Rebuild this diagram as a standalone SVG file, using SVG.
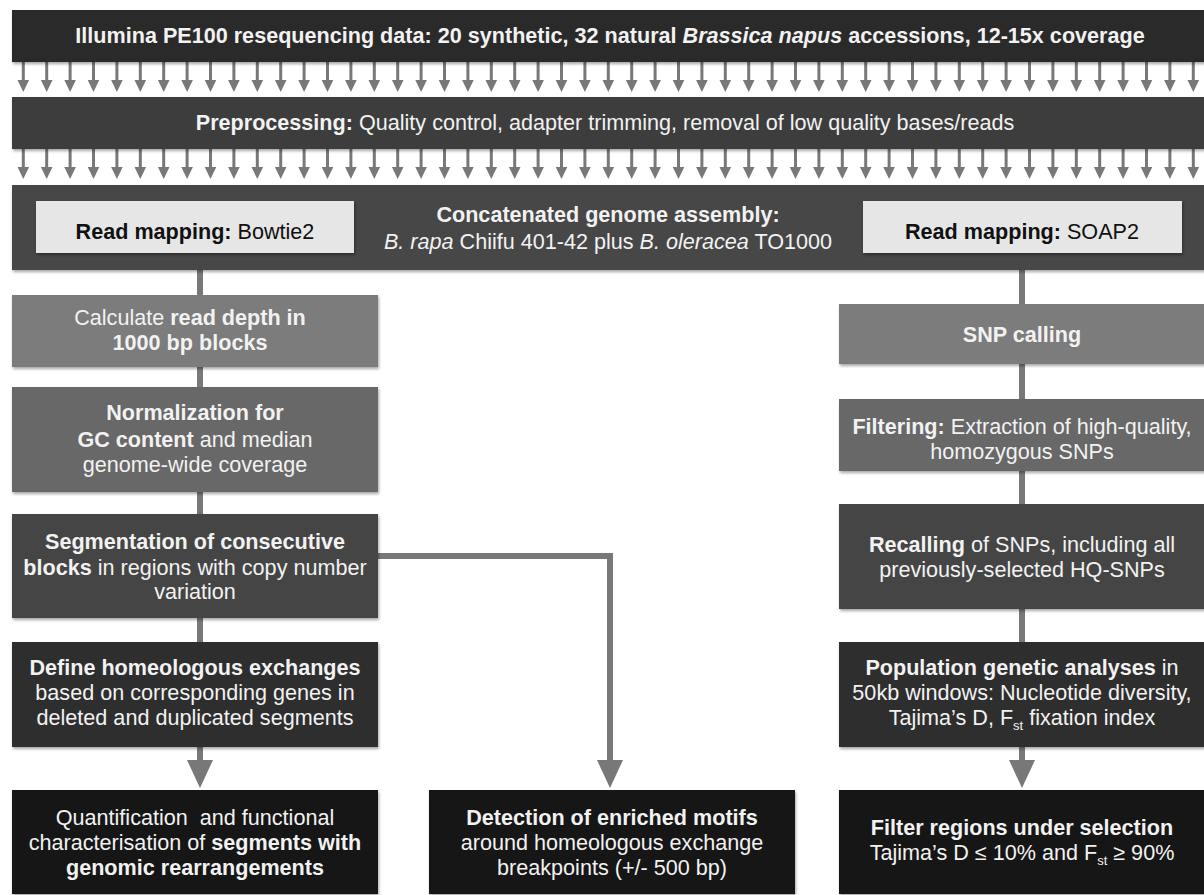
<svg xmlns="http://www.w3.org/2000/svg" xmlns:xlink="http://www.w3.org/1999/xlink" width="1204" height="895" viewBox="0 0 1204 895">
<defs>
<filter id="sh" x="-5%" y="-10%" width="110%" height="130%">
<feDropShadow dx="1" dy="2" stdDeviation="1.6" flood-color="#000" flood-opacity="0.35"/>
</filter>
<g id="sa"><rect x="-1.5" y="0" width="3" height="20" fill="#787878"/><polygon points="-5.8,18 5.8,18 0,30" fill="#787878"/></g>
</defs>
<style>
text{font-family:"Liberation Sans",Arial,Helvetica,sans-serif;font-size:21.6px;text-anchor:middle;fill:#f2f2f2}
.dk{fill:#111}
.b{font-weight:bold}
.i{font-style:italic}
.sub{font-size:13px}
.conn{fill:none;stroke:#787878;stroke-width:6}
.head{fill:#787878}
</style>
<rect width="1204" height="895" fill="#fff"/>

<g id="connectors">
<g id="row1" transform="translate(0,62)">
<use href="#sa" x="23.3"/><use href="#sa" x="46.7"/><use href="#sa" x="70.1"/><use href="#sa" x="93.5"/><use href="#sa" x="116.9"/><use href="#sa" x="140.3"/><use href="#sa" x="163.7"/><use href="#sa" x="187.1"/><use href="#sa" x="210.5"/><use href="#sa" x="233.9"/><use href="#sa" x="257.3"/><use href="#sa" x="280.7"/><use href="#sa" x="304.1"/><use href="#sa" x="327.5"/><use href="#sa" x="350.9"/><use href="#sa" x="374.3"/><use href="#sa" x="397.7"/><use href="#sa" x="421.1"/><use href="#sa" x="444.5"/><use href="#sa" x="467.9"/><use href="#sa" x="491.3"/><use href="#sa" x="514.7"/><use href="#sa" x="538.1"/><use href="#sa" x="561.5"/><use href="#sa" x="584.9"/><use href="#sa" x="608.3"/><use href="#sa" x="631.7"/><use href="#sa" x="655.1"/><use href="#sa" x="678.5"/><use href="#sa" x="701.9"/><use href="#sa" x="725.3"/><use href="#sa" x="748.7"/><use href="#sa" x="772.1"/><use href="#sa" x="795.5"/><use href="#sa" x="818.9"/><use href="#sa" x="842.3"/><use href="#sa" x="865.7"/><use href="#sa" x="889.1"/><use href="#sa" x="912.5"/><use href="#sa" x="935.9"/><use href="#sa" x="959.3"/><use href="#sa" x="982.7"/><use href="#sa" x="1006.1"/><use href="#sa" x="1029.5"/><use href="#sa" x="1052.9"/><use href="#sa" x="1076.3"/><use href="#sa" x="1099.7"/><use href="#sa" x="1123.1"/><use href="#sa" x="1146.5"/><use href="#sa" x="1169.9"/><use href="#sa" x="1193.3"/>
</g>
<g id="row2" transform="translate(0,149)">
<use href="#sa" x="23.3"/><use href="#sa" x="46.7"/><use href="#sa" x="70.1"/><use href="#sa" x="93.5"/><use href="#sa" x="116.9"/><use href="#sa" x="140.3"/><use href="#sa" x="163.7"/><use href="#sa" x="187.1"/><use href="#sa" x="210.5"/><use href="#sa" x="233.9"/><use href="#sa" x="257.3"/><use href="#sa" x="280.7"/><use href="#sa" x="304.1"/><use href="#sa" x="327.5"/><use href="#sa" x="350.9"/><use href="#sa" x="374.3"/><use href="#sa" x="397.7"/><use href="#sa" x="421.1"/><use href="#sa" x="444.5"/><use href="#sa" x="467.9"/><use href="#sa" x="491.3"/><use href="#sa" x="514.7"/><use href="#sa" x="538.1"/><use href="#sa" x="561.5"/><use href="#sa" x="584.9"/><use href="#sa" x="608.3"/><use href="#sa" x="631.7"/><use href="#sa" x="655.1"/><use href="#sa" x="678.5"/><use href="#sa" x="701.9"/><use href="#sa" x="725.3"/><use href="#sa" x="748.7"/><use href="#sa" x="772.1"/><use href="#sa" x="795.5"/><use href="#sa" x="818.9"/><use href="#sa" x="842.3"/><use href="#sa" x="865.7"/><use href="#sa" x="889.1"/><use href="#sa" x="912.5"/><use href="#sa" x="935.9"/><use href="#sa" x="959.3"/><use href="#sa" x="982.7"/><use href="#sa" x="1006.1"/><use href="#sa" x="1029.5"/><use href="#sa" x="1052.9"/><use href="#sa" x="1076.3"/><use href="#sa" x="1099.7"/><use href="#sa" x="1123.1"/><use href="#sa" x="1146.5"/><use href="#sa" x="1169.9"/><use href="#sa" x="1193.3"/>
</g>
<path class="conn" d="M200 253V295M200 367V387M200 492V514M200 618V642M200 747V762"/>
<polygon class="head" points="187,760 213,760 200,788"/>
<path class="conn" d="M378 556H610V762"/>
<polygon class="head" points="597,760 623,760 610,788"/>
<path class="conn" d="M1022 253V304M1022 364V399M1022 471V504M1022 609V642M1022 747V762"/>
<polygon class="head" points="1009,760 1035,760 1022,788"/>
</g>

<g id="n-input">
<rect x="12" y="10" width="1200" height="52" fill="#2b2b2b" filter="url(#sh)"/>
<text x="610" y="43" class="b">Illumina PE100 resequencing data: 20 synthetic, 32 natural <tspan class="i">Brassica napus</tspan> accessions, 12-15x coverage</text>
</g>
<g id="n-preproc">
<rect x="12" y="97" width="1200" height="52" fill="#3d3d3d" filter="url(#sh)"/>
<text x="605" y="130"><tspan class="b">Preprocessing:</tspan> Quality control, adapter trimming, removal of low quality bases/reads</text>
</g>
<g id="n-assembly">
<rect x="12" y="185" width="1200" height="85" fill="#474747" filter="url(#sh)"/>
<text x="608" y="222" class="b">Concatenated genome assembly:</text>
<text x="608" y="249"><tspan class="i">B. rapa</tspan> Chiifu 401-42 plus <tspan class="i">B. oleracea</tspan> TO1000</text>
</g>
<g id="n-bowtie">
<rect x="36" y="201" width="318" height="52" fill="#e6e6e6" filter="url(#sh)"/>
<text x="195" y="239" class="dk"><tspan class="b">Read mapping:</tspan> Bowtie2</text>
</g>
<g id="n-soap">
<rect x="863" y="201" width="319" height="52" fill="#e6e6e6" filter="url(#sh)"/>
<text x="1022" y="239" class="dk"><tspan class="b">Read mapping:</tspan> SOAP2</text>
</g>

<g id="n-depth">
<rect x="12" y="295" width="366" height="72" fill="#7b7b7b" filter="url(#sh)"/>
<text x="190" y="325">Calculate <tspan class="b">read depth in</tspan></text>
<text x="190" y="350" class="b">1000 bp blocks</text>
</g>
<g id="n-norm">
<rect x="12" y="387" width="366" height="105" fill="#686868" filter="url(#sh)"/>
<text x="195" y="420" class="b">Normalization for</text>
<text x="195" y="447"><tspan class="b">GC content</tspan> and median</text>
<text x="195" y="472">genome-wide coverage</text>
</g>
<g id="n-seg">
<rect x="12" y="514" width="366" height="104" fill="#454545" filter="url(#sh)"/>
<text x="195" y="549" class="b">Segmentation of consecutive</text>
<text x="195" y="575"><tspan class="b">blocks</tspan> in regions with copy number</text>
<text x="195" y="599">variation</text>
</g>
<g id="n-define">
<rect x="12" y="642" width="366" height="105" fill="#2f2f2f" filter="url(#sh)"/>
<text x="195" y="675" class="b">Define homeologous exchanges</text>
<text x="195" y="700">based on corresponding genes in</text>
<text x="195" y="725">deleted and duplicated segments</text>
</g>
<g id="n-quant">
<rect x="12" y="790" width="366" height="104" fill="#151515" filter="url(#sh)"/>
<text x="195" y="825">Quantification&#160; and functional</text>
<text x="195" y="850">characterisation of <tspan class="b">segments with</tspan></text>
<text x="195" y="875" class="b">genomic rearrangements</text>
</g>
<g id="n-motifs">
<rect x="429" y="790" width="366" height="104" fill="#151515" filter="url(#sh)"/>
<text x="612" y="825" class="b">Detection of enriched motifs</text>
<text x="612" y="850">around homeologous exchange</text>
<text x="612" y="875">breakpoints (+/- 500 bp)</text>
</g>

<g id="n-snp">
<rect x="839" y="304" width="370" height="60" fill="#7b7b7b" filter="url(#sh)"/>
<text x="1022" y="342" class="b">SNP calling</text>
</g>
<g id="n-filtering">
<rect x="839" y="399" width="370" height="72" fill="#686868" filter="url(#sh)"/>
<text x="1022" y="434"><tspan class="b">Filtering:</tspan> Extraction of high-quality,</text>
<text x="1022" y="459">homozygous SNPs</text>
</g>
<g id="n-recall">
<rect x="839" y="504" width="370" height="105" fill="#454545" filter="url(#sh)"/>
<text x="1022" y="552"><tspan class="b">Recalling</tspan> of SNPs, including all</text>
<text x="1022" y="577">previously-selected HQ-SNPs</text>
</g>
<g id="n-popgen">
<rect x="839" y="642" width="370" height="105" fill="#2f2f2f" filter="url(#sh)"/>
<text x="1022" y="675"><tspan class="b">Population genetic analyses</tspan> in</text>
<text x="1022" y="700">50kb windows: Nucleotide diversity,</text>
<text x="1022" y="725">Tajima’s D, F<tspan class="sub" dy="5">st</tspan><tspan dy="-5"> fixation index</tspan></text>
</g>
<g id="n-select">
<rect x="839" y="790" width="370" height="104" fill="#151515" filter="url(#sh)"/>
<text x="1022" y="835" class="b">Filter regions under selection</text>
<text x="1022" y="860">Tajima’s D ≤ 10% and F<tspan class="sub" dy="5">st</tspan><tspan dy="-5"> ≥ 90%</tspan></text>
</g>
</svg>
